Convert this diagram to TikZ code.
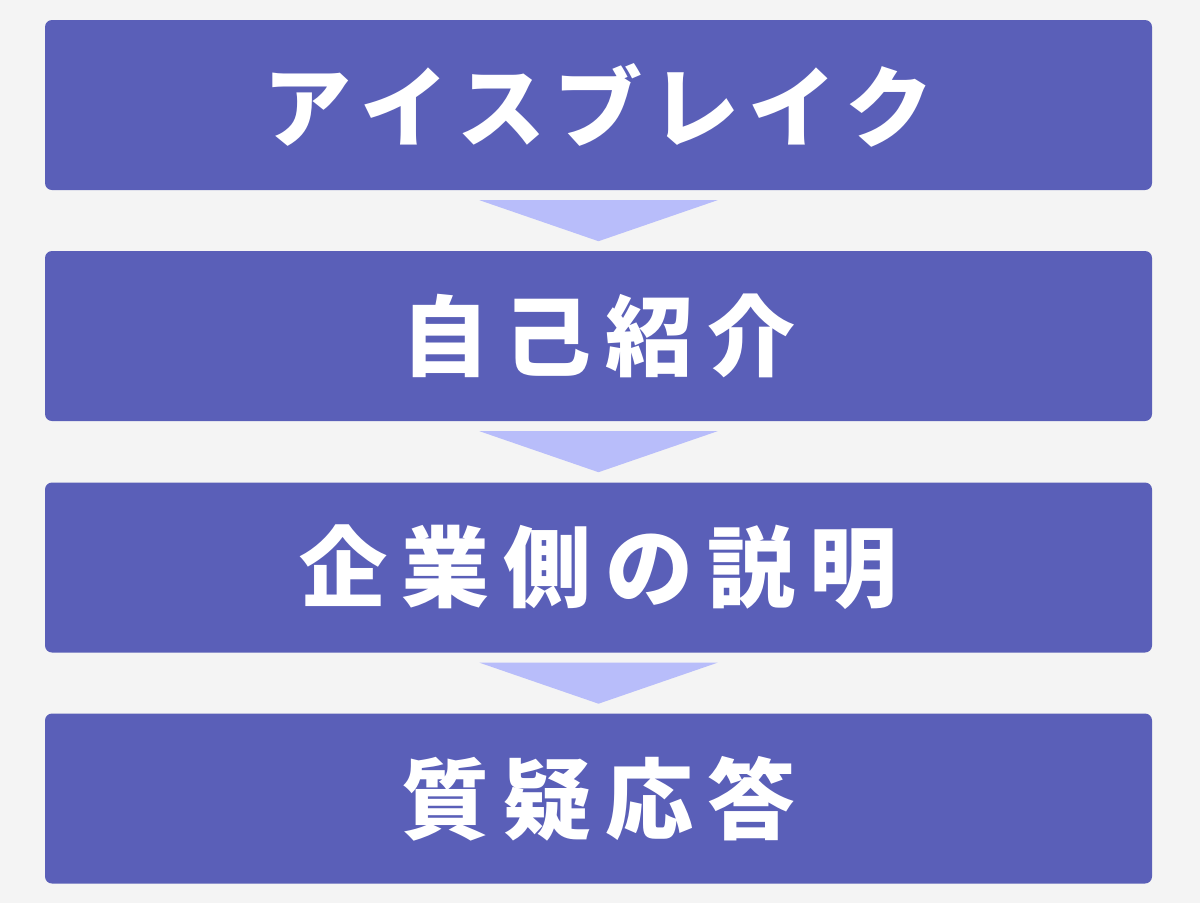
\documentclass[tikz,border=0pt]{standalone}
\usepackage{fontspec}
\usetikzlibrary{calc}
\newfontfamily\cjk{Noto Sans CJK JP}
\definecolor{bg}{HTML}{F4F4F4}
\definecolor{boxc}{HTML}{5A5FB8}
\definecolor{arrc}{HTML}{B8BDFA}
\newcommand{\chsp}{\hspace{14pt}}
\newcommand{\kasp}{\hspace{9pt}}
\begin{document}
\begin{tikzpicture}[x=1pt,y=-1pt,
  stepbox/.style={fill=boxc, draw=none, rounded corners=7pt, minimum width=1107pt, minimum height=170pt, inner sep=0pt,
    text=white, font=\cjk\bfseries\fontsize{88pt}{96pt}\selectfont},
  arr/.style={fill=arrc, draw=none}]
\fill[bg] (0,0) rectangle (1200,903);
\useasboundingbox (0,0) rectangle (1200,903);
\node[stepbox] (b1) at (598.5,105) {ア\kasp イ\kasp ス\kasp ブ\kasp レ\kasp イ\kasp ク};
\node[stepbox] (b2) at (598.5,336) {自\chsp 己\chsp 紹\chsp 介};
\node[stepbox] (b3) at (598.5,567.5) {企\chsp 業\chsp 側\chsp の\chsp 説\chsp 明};
\node[stepbox] (b4) at (598.5,798.5) {質\chsp 疑\chsp 応\chsp 答};
\foreach \a in {b1,b2,b3}{
  \path (\a.south) ++(0,10) coordinate (t\a);
  \fill[arr] ($(t\a)+(-119,0)$) -- ($(t\a)+(119,0)$) -- ($(t\a)+(0,41)$) -- cycle;
}
\end{tikzpicture}
\end{document}
